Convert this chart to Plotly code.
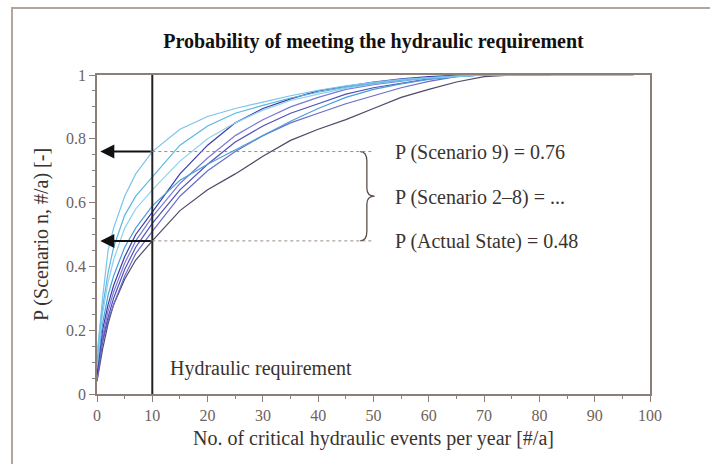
import plotly.graph_objects as go

# x positions (critical hydraulic events per year) at which curves are read
x_events = [0, 0.5, 1, 2, 3, 5, 7, 10, 15, 20, 25, 30, 35, 40, 45, 50, 55, 60, 65, 70, 75, 82]
x_events_long = x_events + [97]

p_actual = [0.04, 0.09, 0.14, 0.22, 0.28, 0.36, 0.42, 0.48, 0.575, 0.64, 0.69, 0.745, 0.795, 0.83, 0.86, 0.895, 0.93, 0.955, 0.978, 0.995, 1.0, 1.0]
p_s2 = [0.04, 0.10, 0.16, 0.23, 0.28, 0.37, 0.44, 0.51, 0.62, 0.70, 0.76, 0.81, 0.85, 0.88, 0.91, 0.935, 0.96, 0.98, 0.995, 1.0, 1.0, 1.0]
p_s3 = [0.05, 0.11, 0.17, 0.24, 0.30, 0.39, 0.46, 0.535, 0.64, 0.72, 0.79, 0.84, 0.88, 0.91, 0.94, 0.96, 0.975, 0.988, 0.996, 1.0, 1.0, 1.0]
p_s4 = [0.05, 0.12, 0.18, 0.26, 0.32, 0.41, 0.48, 0.555, 0.66, 0.74, 0.81, 0.86, 0.90, 0.93, 0.955, 0.97, 0.982, 0.992, 0.998, 1.0, 1.0, 1.0]
p_s5 = [0.06, 0.14, 0.20, 0.28, 0.34, 0.43, 0.50, 0.57, 0.69, 0.78, 0.85, 0.895, 0.925, 0.95, 0.965, 0.978, 0.988, 0.995, 0.999, 1.0, 1.0, 1.0]
p_s6 = [0.08, 0.16, 0.22, 0.31, 0.37, 0.46, 0.52, 0.59, 0.67, 0.72, 0.765, 0.81, 0.855, 0.895, 0.93, 0.955, 0.972, 0.986, 0.995, 1.0, 1.0, 1.0]
p_s7 = [0.09, 0.18, 0.25, 0.35, 0.42, 0.52, 0.58, 0.64, 0.73, 0.80, 0.85, 0.89, 0.92, 0.94, 0.958, 0.972, 0.983, 0.99, 0.996, 1.0, 1.0, 1.0, 1.0]
p_s8 = [0.10, 0.20, 0.27, 0.38, 0.46, 0.56, 0.62, 0.68, 0.78, 0.84, 0.88, 0.905, 0.928, 0.946, 0.962, 0.974, 0.984, 0.991, 0.997, 1.0, 1.0, 1.0, 1.0]
p_s9 = [0.12, 0.22, 0.30, 0.45, 0.52, 0.62, 0.69, 0.76, 0.83, 0.87, 0.895, 0.915, 0.935, 0.952, 0.966, 0.977, 0.986, 0.992, 0.997, 1.0, 1.0, 1.0, 1.0]

series_names = ["Actual State", "Scenario 2", "Scenario 3", "Scenario 4", "Scenario 5",
                "Scenario 6", "Scenario 7", "Scenario 8", "Scenario 9"]
series_values = [p_actual, p_s2, p_s3, p_s4, p_s5, p_s6, p_s7, p_s8, p_s9]
series_colors = ["#4d4a66", "#6b6bc8", "#5050b8", "#7a7ad4", "#3a3aa8",
                 "#4aa0d8", "#8fd0ee", "#5cb8e0", "#7cc4ea"]

requirement = 10
p_scenario9 = 0.76
p_actual_state = 0.48

x_ticks = list(range(0, 101, 10))
y_ticks = [0, 0.2, 0.4, 0.6, 0.8, 1]
y_tick_labels = ["0", "0.2", "0.4", "0.6", "0.8", "1"]

serif = "Liberation Serif, Times New Roman, serif"
axis_col = "#8c7f78"
text_col = "#3a3330"
tick_col = "#6e625b"

fig = go.Figure()
for name, vals, col in zip(series_names, series_values, series_colors):
    xs = x_events_long[:len(vals)]
    fig.add_trace(go.Scatter(x=xs, y=vals, mode="lines", name=name,
                             line=dict(color=col, width=1.2), showlegend=False))

# vertical requirement line
fig.add_shape(type="line", xref="x", yref="y", x0=requirement, x1=requirement, y0=0, y1=1,
              line=dict(color="#222222", width=2))
# dotted guide lines
for pv in (p_scenario9, p_actual_state):
    fig.add_shape(type="line", xref="x", yref="y", x0=requirement, x1=50, y0=pv, y1=pv,
                  line=dict(color="#9a8a80", width=1, dash="dot"))
    fig.add_annotation(x=0.6, y=pv, ax=requirement, ay=pv, xref="x", yref="y",
                       axref="x", ayref="y", showarrow=True, arrowhead=2, arrowsize=1.4,
                       arrowwidth=2, arrowcolor="#111111", standoff=0, startstandoff=0, text="")

# brace
bt, bb = p_scenario9, p_actual_state
bm = (bt + bb) / 2
brace = (f"M 47.6,{bt} Q 48.8,{bt} 48.8,{bt-0.03} L 48.8,{bm+0.025} "
         f"Q 48.8,{bm} 50.2,{bm} Q 48.8,{bm} 48.8,{bm-0.025} "
         f"L 48.8,{bb+0.03} Q 48.8,{bb} 47.6,{bb}")
fig.add_shape(type="path", xref="x", yref="y", path=brace,
              line=dict(color="#5a4e48", width=1.3))

labels = ["P (Scenario 9) = 0.76", "P (Scenario 2–8) = ...", "P (Actual State) = 0.48"]
label_y = [0.757, 0.617, 0.477]
for t, yy in zip(labels, label_y):
    fig.add_annotation(x=53.6, y=yy, xref="x", yref="y", text=t, showarrow=False,
                       xanchor="left", yanchor="middle",
                       font=dict(family=serif, size=20, color=text_col))

fig.add_annotation(x=12.9, y=0.08, xref="x", yref="y", text="Hydraulic requirement",
                   showarrow=False, xanchor="left", yanchor="middle",
                   font=dict(family=serif, size=20, color=text_col))

# outer frame
fig.add_shape(type="rect", xref="paper", yref="paper", x0=-0.1537, x1=1.12, y0=-0.25, y1=1.21,
              line=dict(color="#b3a59c", width=2), layer="below")

fig.update_layout(
    width=710, height=464,
    margin=dict(l=97, r=60, t=75, b=70, autoexpand=False),
    paper_bgcolor="white", plot_bgcolor="white",
    title=dict(text="<b>Probability of meeting the hydraulic requirement</b>",
               x=0.5, xref="paper", xanchor="center", y=1 - 41 / 464, yanchor="middle",
               font=dict(family=serif, size=20, color="#111111")),
    font=dict(family=serif),
)
fig.update_xaxes(range=[0, 100], tickvals=x_ticks, ticks="outside", ticklen=6,
                 tickcolor=axis_col, showline=True, linecolor=axis_col, linewidth=1.5,
                 mirror=True, showgrid=False, zeroline=False, automargin=False,
                 minor=dict(dtick=5, ticks="outside", ticklen=3, tickcolor=axis_col),
                 tickfont=dict(family=serif, size=16, color=tick_col),
                 title=dict(text="No. of critical hydraulic events per year [#/a]",
                            font=dict(family=serif, size=20, color=text_col), standoff=8))
fig.update_yaxes(range=[0, 1], tickvals=y_ticks, ticktext=y_tick_labels, ticks="outside",
                 ticklen=6, tickcolor=axis_col, showline=True, linecolor=axis_col,
                 linewidth=1.5, mirror=True, showgrid=False, zeroline=False, automargin=False,
                 minor=dict(dtick=0.05, ticks="outside", ticklen=3, tickcolor=axis_col),
                 tickfont=dict(family=serif, size=16, color=tick_col),
                 title=dict(text="P (Scenario n, #/a) [-]",
                            font=dict(family=serif, size=20, color=text_col), standoff=12))

fig.write_html("out.html", config={"displayModeBar": False},
               post_script="document.body.style.margin='0';document.body.style.overflow='hidden';")
